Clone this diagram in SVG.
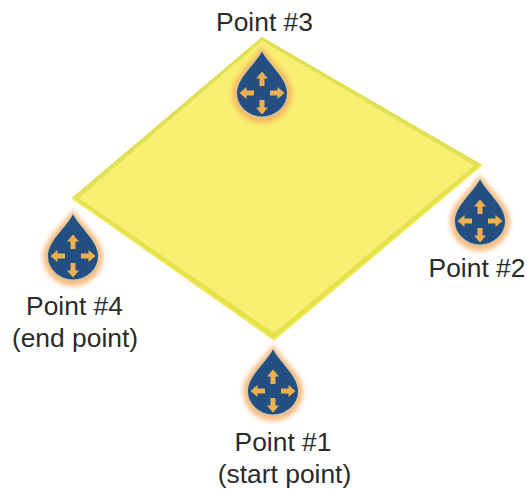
<svg xmlns="http://www.w3.org/2000/svg" width="527" height="491" viewBox="0 0 527 491">
<style>
text{font-family:"Liberation Sans",Arial,sans-serif;font-size:26.4px;fill:#2b2a2b;text-anchor:middle}
.halo{fill:#f8a95c;opacity:.8;filter:url(#b)}
.edge{fill:#c8c9a8}
.drop{fill:#234f82}
.ar{fill:#eeb04e}
</style>
<defs>
<filter id="b" x="-30%" y="-30%" width="160%" height="160%"><feGaussianBlur stdDeviation="2.600"/></filter>
<path id="a" d="M0-7.500L6-.5H2.500V7H-2.500V-.5H-6Z"/>
<g id="marker">
<path class="halo" d="M0-4C7 10 30 25 30 43A30 30 0 0 1-30 43C-30 25-7 10 0-4Z"/>
<path class="edge" d="M0 0C7 14 26 27 26 43A26 25 0 0 1-26 43C-26 27-7 14 0 0Z"/>
<path class="drop" d="M0 1.500C7 15 25 28 25 43A25 23.500 0 0 1-25 43C-25 28-7 15 0 1.500Z"/>
<use href="#a" class="ar" transform="translate(0 29)"/>
<use href="#a" class="ar" transform="translate(0 57) rotate(180)"/>
<use href="#a" class="ar" transform="translate(-15 43) rotate(-90)"/>
<use href="#a" class="ar" transform="translate(15 43) rotate(90)"/>
</g>
</defs>
<g id="plane">
<path d="M262 37L482 165L274 340L72 198Z" fill="#e2e25a"/>
<path d="M262 41L474 165.500L274 333L79 198Z" fill="#f8ef72"/>
<path d="M74 199L274 336L479 166" fill="none" stroke="#e5e33c" stroke-width="2.500"/>
<path d="M73 198L262 38L481 165" fill="none" stroke="#dcdc48" stroke-width="1.200"/>
<path d="M72 198L274 340L482 165" fill="none" stroke="#f0ec70" stroke-width="1.500"/>
</g>
<g id="point-3"><use href="#marker" x="262" y="50"/><text x="264.500" y="31">Point #3</text></g>
<g id="point-2"><use href="#marker" x="480" y="178"/><text x="477" y="277">Point #2</text></g>
<g id="point-4"><use href="#marker" x="73" y="213"/><text x="74.500" y="315">Point #4</text><text x="75" y="347">(end point)</text></g>
<g id="point-1"><use href="#marker" x="273" y="348"/><text x="283" y="451">Point #1</text><text x="284.500" y="483">(start point)</text></g>
</svg>
